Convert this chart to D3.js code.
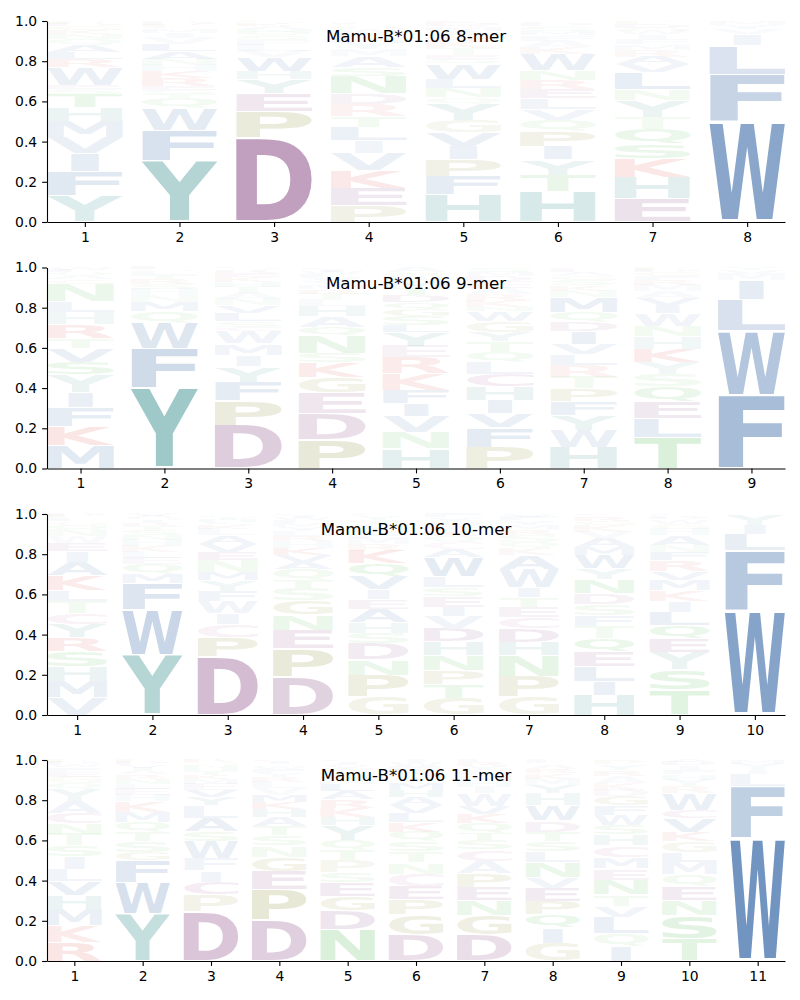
<!DOCTYPE html>
<html><head><meta charset="utf-8">
<script src="https://cdn.jsdelivr.net/npm/d3@7"></script>
<style>body{margin:0;background:#fff}svg{display:block}</style>
</head><body>
<svg id="chart" width="800" height="1000"></svg>
<script>
// ---- data: stacking order bottom -> top, [letter, probability] ----
const titles = ["Mamu-B*01:06 8-mer","Mamu-B*01:06 9-mer","Mamu-B*01:06 10-mer","Mamu-B*01:06 11-mer"];
const yTickValues = [0.0,0.2,0.4,0.6,0.8,1.0];

const mer8 = [
 [["Y",.13],["F",.12],["I",.09],["V",.08],["M",.08],["H",.07],["T",.065],["S",.025],["E",.02],["W",.09],["R",.04],["L",.035],["A",.035],["Q",.03],["N",.025],["K",.02],["G",.02],["D",.01],["P",.01],["C",.005]],
 [["Y",.30],["F",.15],["W",.11],["Q",.045],["T",.02],["S",.02],["E",.02],["R",.04],["K",.035],["H",.03],["N",.03],["A",.035],["L",.035],["V",.03],["I",.025],["M",.02],["C",.01],["P",.01],["D",.01],["G",.01]],
 [["D",.42],["P",.13],["E",.09],["Y",.07],["H",.04],["W",.07],["V",.03],["L",.03],["F",.025],["S",.02],["Q",.02],["N",.015],["A",.015],["K",.015],["G",.01]],
 [["P",.075],["E",.08],["K",.08],["V",.08],["I",.055],["L",.06],["T",.05],["R",.055],["D",.05],["N",.08],["S",.04],["A",.05],["M",.03],["Y",.03],["H",.025],["F",.02],["W",.02],["G",.015],["C",.01],["Q",.01]],
 [["H",.125],["F",.085],["P",.075],["I",.06],["V",.065],["G",.055],["Y",.075],["Q",.03],["N",.04],["L",.045],["W",.07],["S",.02],["E",.02],["T",.03],["K",.03],["R",.025],["A",.025],["M",.02],["D",.015],["C",.01]],
 [["H",.14],["T",.075],["Y",.07],["I",.06],["P",.07],["Q",.05],["V",.05],["L",.05],["E",.045],["R",.04],["N",.045],["W",.075],["K",.03],["A",.03],["F",.025],["M",.02],["S",.02],["D",.01],["G",.01],["C",.005]],
 [["E",.105],["H",.095],["K",.085],["S",.065],["Q",.065],["T",.055],["Y",.075],["N",.05],["L",.075],["V",.035],["A",.035],["R",.03],["M",.025],["F",.025],["I",.02],["W",.015],["G",.015],["D",.015],["P",.01],["C",.005]],
 [["W",.50],["F",.235],["L",.145],["I",.055],["V",.025],["Y",.02],["M",.02]]
];
const mer9 = [
 [["M",.105],["K",.09],["F",.085],["I",.07],["Y",.08],["S",.06],["V",.065],["T",.045],["R",.065],["H",.055],["L",.05],["N",.08],["G",.02],["A",.02],["Q",.015],["E",.01],["W",.01]],
 [["Y",.40],["F",.195],["W",.13],["Q",.055],["M",.05],["N",.03],["H",.03],["S",.025],["R",.025],["T",.02],["L",.02],["G",.01],["E",.01]],
 [["D",.21],["P",.12],["F",.09],["Y",.075],["I",.055],["M",.055],["W",.06],["C",.02],["S",.03],["L",.04],["V",.035],["N",.03],["A",.03],["T",.03],["H",.025],["K",.025],["E",.02],["R",.015],["G",.01]],
 [["P",.14],["D",.125],["E",.095],["G",.075],["K",.07],["S",.045],["N",.085],["Q",.04],["A",.05],["H",.05],["L",.03],["T",.03],["R",.02],["M",.02],["Y",.02],["V",.02],["F",.015],["W",.01],["I",.01],["C",.01]],
 [["H",.085],["N",.07],["V",.07],["I",.055],["F",.06],["K",.07],["R",.07],["E",.05],["Y",.06],["L",.03],["S",.04],["G",.03],["Q",.03],["D",.03],["T",.03],["M",.03],["W",.02],["P",.02],["A",.02]],
 [["P",.10],["F",.09],["V",.065],["I",.06],["H",.065],["C",.06],["L",.055],["Q",.045],["T",.05],["Y",.045],["G",.05],["W",.045],["N",.02],["K",.03],["R",.03],["A",.03],["E",.03],["D",.025],["M",.02],["S",.02]],
 [["H",.10],["W",.08],["Y",.07],["F",.065],["P",.06],["T",.055],["R",.055],["L",.05],["V",.05],["I",.06],["D",.045],["Q",.045],["M",.07],["N",.03],["K",.025],["S",.025],["G",.02],["A",.02],["E",.01],["C",.01]],
 [["T",.15],["L",.09],["E",.08],["Q",.07],["S",.06],["Y",.055],["K",.065],["H",.06],["N",.05],["W",.06],["I",.04],["V",.035],["A",.03],["M",.03],["R",.025],["F",.02],["G",.02],["D",.01],["P",.01]],
 [["F",.365],["W",.32],["L",.155],["I",.095],["M",.03],["V",.02],["Y",.015]]
];
const mer10 = [
 [["V",.08],["M",.075],["H",.07],["S",.07],["R",.065],["Y",.06],["C",.055],["T",.055],["L",.05],["K",.07],["A",.06],["I",.05],["E",.04],["W",.03],["N",.03],["Q",.025],["G",.015],["F",.015],["P",.01],["D",.01]],
 [["Y",.30],["W",.225],["F",.13],["M",.05],["Q",.045],["E",.03],["L",.03],["K",.03],["H",.03],["N",.025],["S",.025],["T",.02],["R",.015],["I",.015],["G",.01],["A",.01],["V",.01]],
 [["D",.285],["P",.095],["C",.06],["I",.055],["W",.06],["F",.05],["Y",.05],["M",.04],["N",.06],["E",.04],["V",.04],["A",.04],["L",.03],["K",.02],["S",.015],["H",.01],["T",.01],["G",.01],["Q",.01]],
 [["D",.19],["P",.135],["E",.09],["N",.075],["G",.07],["S",.06],["T",.04],["Q",.055],["A",.035],["V",.035],["K",.035],["H",.03],["R",.025],["L",.025],["Y",.02],["M",.02],["F",.015],["W",.01],["I",.01],["C",.01]],
 [["G",.085],["P",.10],["N",.07],["D",.075],["S",.05],["H",.05],["A",.06],["E",.045],["I",.045],["V",.06],["Q",.06],["K",.06],["R",.03],["M",.03],["F",.02],["W",.02],["L",.02],["T",.02],["Y",.02],["C",.01]],
 [["G",.075],["T",.065],["P",.065],["N",.07],["H",.06],["D",.06],["V",.055],["I",.045],["E",.05],["S",.04],["L",.05],["W",.085],["A",.04],["C",.03],["Q",.03],["K",.025],["R",.02],["M",.02],["Y",.02],["F",.015]],
 [["G",.085],["P",.095],["N",.095],["H",.06],["D",.065],["C",.05],["E",.05],["T",.045],["I",.045],["W",.085],["A",.065],["K",.03],["Q",.03],["S",.03],["R",.025],["M",.025],["Y",.02],["F",.015],["V",.015]],
 [["H",.09],["I",.06],["L",.07],["E",.065],["Q",.06],["T",.055],["F",.05],["S",.05],["D",.05],["N",.06],["Y",.05],["W",.06],["M",.035],["A",.04],["V",.03],["K",.03],["G",.02],["R",.02],["C",.01]],
 [["T",.115],["S",.095],["Y",.08],["E",.065],["Q",.06],["L",.06],["I",.05],["K",.05],["M",.05],["V",.04],["R",.05],["F",.04],["N",.03],["A",.045],["H",.03],["G",.025],["W",.02],["D",.015],["C",.01]],
 [["W",.52],["F",.30],["L",.08],["I",.045],["Y",.055]]
];
const mer11 = [
 [["R",.09],["K",.08],["M",.075],["H",.065],["V",.065],["L",.06],["I",.06],["S",.05],["T",.055],["N",.05],["C",.05],["A",.055],["Y",.055],["Q",.03],["G",.03],["E",.025],["F",.02],["W",.015],["D",.01],["P",.01]],
 [["Y",.23],["W",.15],["F",.105],["G",.04],["S",.055],["T",.045],["Q",.045],["M",.05],["K",.05],["H",.03],["E",.03],["L",.025],["N",.025],["R",.02],["A",.02],["I",.01],["V",.01],["C",.01],["D",.01],["P",.01]],
 [["D",.245],["P",.08],["C",.065],["I",.055],["F",.06],["W",.085],["S",.05],["A",.065],["L",.06],["Y",.04],["V",.035],["E",.03],["M",.025],["K",.02],["T",.02],["H",.015],["N",.01],["Q",.01],["G",.01],["R",.01]],
 [["D",.20],["P",.15],["E",.09],["G",.07],["N",.055],["S",.05],["T",.045],["A",.045],["H",.04],["K",.035],["M",.035],["V",.03],["L",.03],["R",.025],["Y",.02],["F",.02],["W",.015],["Q",.01],["I",.01],["C",.01]],
 [["N",.15],["D",.09],["G",.07],["E",.065],["S",.05],["P",.06],["T",.05],["Q",.045],["Y",.07],["H",.04],["K",.045],["R",.04],["A",.04],["L",.035],["M",.03],["F",.025],["W",.02],["V",.015],["I",.015],["C",.01]],
 [["D",.125],["G",.10],["P",.075],["E",.065],["C",.06],["N",.055],["T",.055],["S",.05],["Q",.045],["K",.045],["L",.045],["V",.04],["A",.04],["H",.035],["M",.035],["Y",.03],["R",.03],["F",.02],["W",.02],["I",.01]],
 [["D",.125],["G",.095],["N",.07],["E",.065],["P",.065],["A",.06],["C",.055],["S",.045],["T",.035],["Q",.045],["K",.045],["V",.04],["W",.06],["I",.03],["H",.03],["M",.025],["L",.025],["Y",.02],["R",.02],["F",.01]],
 [["G",.08],["I",.07],["Q",.06],["P",.06],["E",.06],["V",.05],["N",.065],["L",.05],["S",.045],["T",.045],["D",.05],["W",.07],["H",.055],["Y",.035],["M",.03],["K",.025],["R",.02],["A",.02],["C",.01],["F",.01]],
 [["I",.065],["Q",.055],["L",.07],["V",.05],["T",.05],["N",.065],["E",.05],["M",.05],["C",.05],["H",.05],["S",.04],["W",.045],["F",.04],["G",.04],["D",.03],["K",.03],["A",.03],["R",.025],["Y",.025],["P",.02]],
 [["T",.10],["S",.105],["N",.07],["E",.06],["Q",.055],["M",.055],["L",.045],["G",.05],["K",.04],["V",.06],["C",.04],["W",.075],["R",.03],["Y",.03],["H",.025],["F",.02],["I",.02],["D",.015],["A",.01]],
 [["W",.61],["F",.26],["L",.06],["I",.02],["Y",.03],["M",.02]]
];
const panels = [mer8, mer9, mer10, mer11];

// ---- colours ----
const letterGroup = {A:"hyd",V:"hyd",L:"hyd",I:"hyd",M:"hyd",F:"hyd",W:"hyd",
  Y:"aro",H:"aro",D:"acid",E:"acid",K:"base",R:"base",N:"pol",Q:"pol",S:"pol",T:"pol",G:"gp",P:"gp",C:"cys"};
const groupColor = {hyd:[46,98,162],aro:[43,134,134],acid:[125,55,120],base:[215,60,50],pol:[60,175,60],gp:[130,130,40],cys:[160,60,130]};

// ---- layout ----
const svg = d3.select("#chart");
const left = 47, right = 785, panelH = 201;
const tops = [21, 267.5, 514, 760];
const vpad = 0.05, widthFrac = 0.8;
const FS = 200;
const ctx = document.createElement("canvas").getContext("2d");
ctx.font = `bold ${FS}px "DejaVu Sans"`;
const cache = {};
function metric(ch){
  if(!cache[ch]){
    const t = ctx.measureText(ch);
    cache[ch] = {l:t.actualBoundingBoxLeft, r:t.actualBoundingBoxRight, a:t.actualBoundingBoxAscent, d:t.actualBoundingBoxDescent};
  }
  return cache[ch];
}
const refW = metric("E").l + metric("E").r;

panels.forEach((cols, i) => {
  const n = cols.length;
  const top = tops[i], bottom = top + panelH;
  const x = d3.scaleLinear().domain([0.6, n + 0.4]).range([left, right]);
  const y = d3.scaleLinear().domain([0, 1]).range([bottom, top]);
  const g = svg.append("g");
  const fullW = x(1 + widthFrac) - x(1);

  cols.forEach((col, j) => {
    const pos = j + 1;
    const total = d3.sum(col, d => d[1]);
    let cum = 0;
    col.forEach(([ch, v]) => {
      const p = v / total;
      const y0 = cum, y1 = cum + p; cum = y1;
      const h = y(y0) - y(y1);
      const gh = h * (1 - vpad);
      const gy = y(y1) + h * vpad / 2;
      const mt = metric(ch);
      const bw = mt.l + mt.r, bh = mt.a + mt.d;
      const sx = Math.min(fullW / bw, fullW / refW);
      const gw = bw * sx;
      const gx = x(pos) - gw / 2;
      const sy = gh / bh;
      const c = groupColor[letterGroup[ch]];
      g.append("text").text(ch)
        .attr("font-family", "'DejaVu Sans'")
        .attr("font-weight", "bold")
        .attr("font-size", FS)
        .attr("transform", `translate(${gx},${gy}) scale(${sx},${sy}) translate(${mt.l},${mt.a})`)
        .attr("fill", `rgb(${c[0]},${c[1]},${c[2]})`)
        .attr("fill-opacity", Math.min(1, p * 1.08 + 0.02));
    });
  });

  const yAxis = d3.axisLeft(y).tickValues(yTickValues).tickFormat(d3.format(".1f")).tickSize(4.9).tickPadding(4.9).tickSizeOuter(0);
  const xAxis = d3.axisBottom(x).tickValues(d3.range(1, n + 1)).tickFormat(d3.format("d")).tickSize(4.9).tickPadding(4.9).tickSizeOuter(0);
  const ya = svg.append("g").attr("transform", `translate(${left},0)`).call(yAxis);
  const xa = svg.append("g").attr("transform", `translate(0,${bottom})`).call(xAxis);
  [ya, xa].forEach(a => {
    a.attr("font-family", "'DejaVu Sans'").attr("font-size", 13.9);
    a.selectAll("path.domain").attr("stroke", "#000").attr("stroke-width", 1.1);
    a.selectAll(".tick line").attr("stroke", "#000").attr("stroke-width", 1.1);
    a.selectAll(".tick text").attr("fill", "#000");
  });

  svg.append("text").attr("x", (left + right) / 2).attr("y", top + 21)
    .attr("text-anchor", "middle").attr("font-family", "'DejaVu Sans'").attr("font-size", 16.7)
    .attr("fill", "#000").text(titles[i]);
});
</script>
</body></html>
